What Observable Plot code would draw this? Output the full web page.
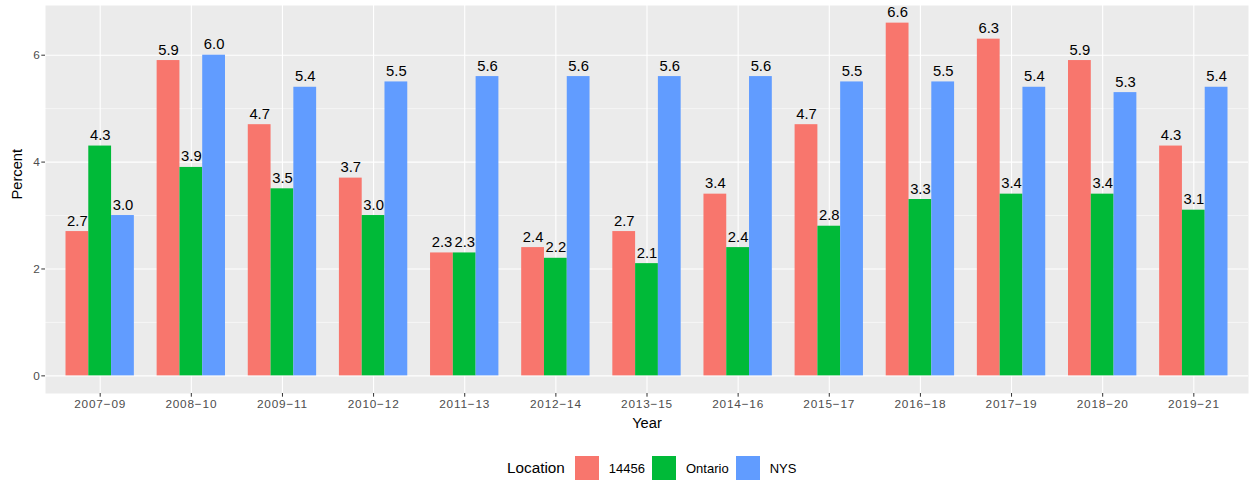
<!DOCTYPE html>
<html>
<head>
<meta charset="utf-8">
<script src="https://cdn.jsdelivr.net/npm/d3@7"></script>
<script src="https://cdn.jsdelivr.net/npm/@observablehq/plot@0.6"></script>
<style>
  body { margin: 0; background: white; font-family: "Liberation Sans", Arial, Helvetica, sans-serif; }
  #legend { position: relative; height: 42px; }
  .lg { position: absolute; display: flex; align-items: center; top: 16px; left: 507px; height: 24px; }
  .lg .title { font-size: 15.3px; color: #000; margin-right: 10px; }
  .lg .key { width: 24px; height: 24px; margin-right: 10px; }
  .lg .lab { font-size: 13px; color: #000; margin-right: 7px; }
  g[aria-label="x-axis tick label"] text { letter-spacing: 0.8px; }
</style>
</head>
<body>
<div id="chart"></div>
<div id="legend"></div>
<script>
const years = ["2007−09","2008−10","2009−11","2010−12","2011−13","2012−14","2013−15","2014−16","2015−17","2016−18","2017−19","2018−20","2019−21"];
const locations = ["14456", "Ontario", "NYS"];
const colors = ["#F8766D", "#00BA38", "#619CFF"];
const values14456 = [2.7, 5.9, 4.7, 3.7, 2.3, 2.4, 2.7, 3.4, 4.7, 6.6, 6.3, 5.9, 4.3];
const valuesOntario = [4.3, 3.9, 3.5, 3.0, 2.3, 2.2, 2.1, 2.4, 2.8, 3.3, 3.4, 3.4, 3.1];
const valuesNYS = [3.0, 6.0, 5.4, 5.5, 5.6, 5.6, 5.6, 5.6, 5.5, 5.5, 5.4, 5.3, 5.4];
const yTicks = [0, 2, 4, 6];
const yMinor = [1, 3, 5];

const series = [values14456, valuesOntario, valuesNYS];
const rows = years.flatMap((year, i) => locations.map((loc, j) => ({i, j, year, loc, value: series[j][i]})));
const dodge = 0.25;
const xc = d => d.i + (d.j - 1) * dodge;

const plot = Plot.plot({
  width: 1256,
  height: 440,
  marginLeft: 45,
  marginRight: 8,
  marginTop: 5,
  marginBottom: 47,
  style: {fontFamily: '"Liberation Sans", Arial, Helvetica, sans-serif', background: "white"},
  x: {type: "linear", domain: [-0.6, 12.6]},
  y: {domain: [-0.33, 6.93]},
  color: {domain: locations, range: colors},
  marks: [
    Plot.frame({fill: "#EBEBEB", stroke: null}),
    Plot.ruleY(yMinor, {stroke: "white", strokeWidth: 0.55}),
    Plot.ruleY(yTicks, {stroke: "white", strokeWidth: 1.1}),
    Plot.ruleX(d3.range(years.length), {stroke: "white", strokeWidth: 1.1}),
    Plot.rect(rows, {x1: d => xc(d) - dodge / 2, x2: d => xc(d) + dodge / 2, y1: 0, y2: "value", fill: "loc"}),
    Plot.text(rows, {x: xc, y: "value", text: d => d.value.toFixed(1), lineAnchor: "bottom", dy: -6, fontSize: 14.8, fill: "black"}),
    Plot.axisX(d3.range(years.length), {tickFormat: i => years[i], tickSize: 3.7, tickPadding: 2.5, fontSize: 11.8, fill: "#4D4D4D", stroke: "#333333", label: null}),
    Plot.axisY(yTicks, {tickFormat: d => String(d), tickSize: 3.7, tickPadding: 2, fontSize: 11.8, fill: "#4D4D4D", stroke: "#333333", label: null}),
    Plot.text(["Year"], {frameAnchor: "bottom", text: d => d, dy: 34, fontSize: 14.7, fill: "black"}),
    Plot.text(["Percent"], {frameAnchor: "left", text: d => d, rotate: -90, dx: -28, fontSize: 14.7, fill: "black"})
  ]
});
document.getElementById("chart").appendChild(plot);

const lg = document.createElement("div");
lg.className = "lg";
let html = '<span class="title">Location</span>';
locations.forEach((loc, j) => {
  html += `<span class="key" style="background:${colors[j]}"></span><span class="lab">${loc}</span>`;
});
lg.innerHTML = html;
document.getElementById("legend").appendChild(lg);
</script>
</body>
</html>
